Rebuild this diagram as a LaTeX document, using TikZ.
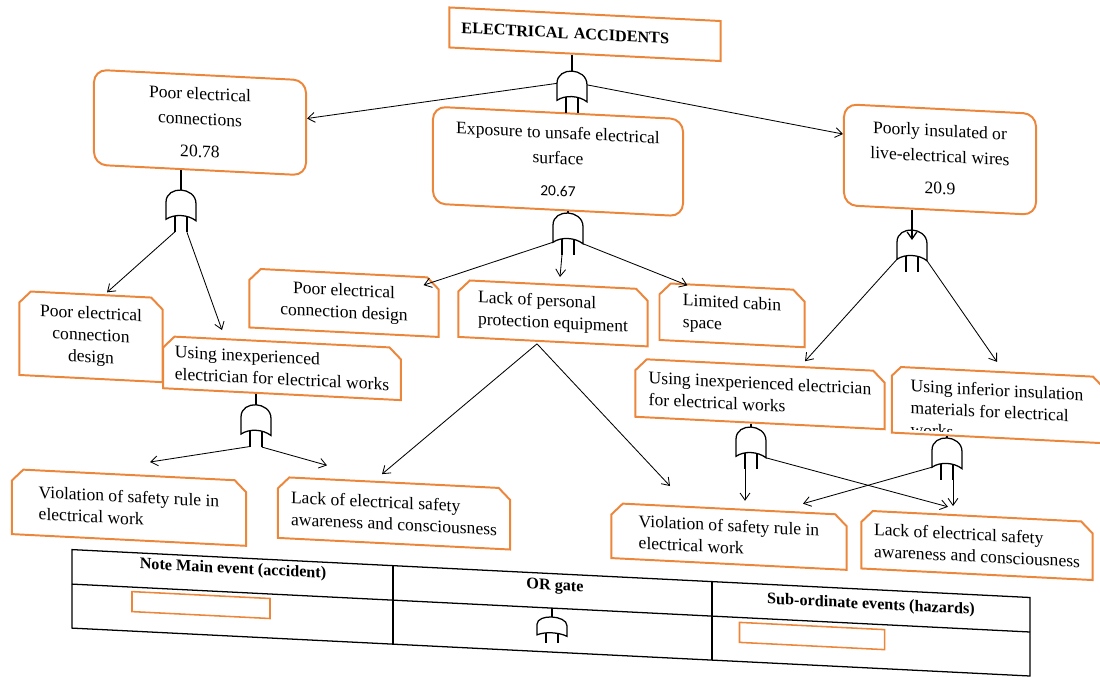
\documentclass[tikz,border=0pt]{standalone}
\usepackage{fontspec}
\setmainfont{Liberation Serif}
\newfontfamily\numfont{Carlito}
\usepackage{tikz}
\usetikzlibrary{shapes.misc,arrows.meta,calc}

\definecolor{boxorange}{RGB}{236,134,58}

\tikzset{
  orgate/.pic={
    \draw[line width=0.9pt] (-15,30) -- (-15,13) .. controls (-15,4) and (-7,0) .. (0,0)
      .. controls (7,0) and (15,4) .. (15,13) -- (15,30) .. controls (7,24) and (-7,24) .. (-15,30) -- cycle;
    \draw[line width=0.9pt] (-6,26) -- (-6,42) (6,26) -- (6,42);
    \coordinate (-top) at (0,0);
    \coordinate (-l) at (-15,13);
    \coordinate (-r) at (15,13);
    \coordinate (-cl) at (-15,30);
    \coordinate (-cr) at (15,30);
    \coordinate (-bl) at (-6,42);
    \coordinate (-br) at (6,42);
  }
}

\begin{document}
\begin{tikzpicture}[x=0.025cm, y=-0.025cm,
    >={Straight Barb[length=5pt,width=7pt]},
    conn/.style={->, line width=0.6pt},
    stem/.style={line width=0.9pt},
    topevent/.style={rectangle, draw=boxorange, line width=1.4pt, align=left,
      font=\fontsize{11.5}{14}\selectfont\bfseries},
    mainevent/.style={rectangle, rounded corners=9pt, draw=boxorange, line width=1.4pt,
      align=center, font=\fontsize{12.5}{18}\selectfont},
    subevent/.style={chamfered rectangle, chamfered rectangle corners={north west,north east},
      chamfered rectangle xsep=5pt, draw=boxorange, line width=1.4pt, align=left,
      font=\fontsize{12.5}{15.5}\selectfont},
    subtext/.style={align=left, font=\fontsize{12.5}{15.5}\selectfont},
    legendtxt/.style={font=\fontsize{11.5}{14}\selectfont\bfseries},
    legendbox/.style={rectangle, draw=boxorange, line width=1.1pt},
    tableline/.style={line width=0.9pt}]

  \useasboundingbox (0,0) rectangle (1100,677);

  \begin{scope}[yslant=-0.05, transform shape]

    \node[topevent, text width=6.175cm, inner xsep=0.3cm, minimum height=1cm] (top) at (585,5) {ELECTRICAL ACCIDENTS};

    \node[mainevent, minimum width=5.3cm, minimum height=2.375cm] (pec) at (200,112.5)
      {Poor electrical\\connections\\[5pt]20.78};
    \node[mainevent, minimum width=6.25cm, minimum height=2.425cm] (exp) at (558,133.5)
      {Exposure to unsafe electrical\\surface\\[5pt]{\numfont\fontsize{11}{18}\selectfont 20.67}};
    \node[mainevent, minimum width=4.8cm, minimum height=2.525cm] (pil) at (940,112.5)
      {Poorly insulated or\\live-electrical wires\\[5pt]20.9};

    \node[subevent, align=center, minimum width=3.575cm, minimum height=2.1cm] (pcd1) at (91,332)
      {Poor electrical\\connection\\design};
    \node[subevent, minimum width=5.85cm, minimum height=1.3cm] (uie1) at (282,354)
      {Using inexperienced\\electrician for electrical works};
    \node[subevent, align=center, minimum width=4.725cm, minimum height=1.475cm] (pcd2) at (344,285.5)
      {Poor electrical\\connection design};
    \node[subevent, minimum width=4.725cm, minimum height=1.425cm] (ppe) at (553,285.5)
      {Lack of personal\\protection equipment};
    \node[subevent, minimum width=3.625cm, minimum height=1.425cm] (lcs) at (732,278.5)
      {Limited cabin\\space};
    \node[subevent, minimum width=6.225cm, minimum height=1.45cm] (uie2) at (760,356)
      {Using inexperienced electrician\\for electrical works};
    \node[subevent, minimum width=5.25cm, minimum height=1.65cm] (uii) at (997,355) {};
    \begin{scope}
      \clip (uii.north west) -- (uii.north east) -- ($(uii.south east)+(0,-5)$) -- ($(uii.south west)+(0,-5)$) -- cycle;
      \node[subtext] (uiitext) at (997,362) {Using inferior insulation\\materials for electrical\\works};
    \end{scope}

    \node[subevent, minimum width=5.85cm, minimum height=1.625cm] (vio1) at (129,501)
      {Violation of safety rule in\\electrical work};
    \node[subevent, minimum width=5.8cm, minimum height=1.525cm] (lac1) at (394,493.5)
      {Lack of electrical safety\\awareness and consciousness};
    \node[subevent, minimum width=5.875cm, minimum height=1.375cm] (vio2) at (729,500)
      {Violation of safety rule in\\electrical work};
    \node[subevent, minimum width=5.775cm, minimum height=1.45cm] (lac2) at (977,496.4)
      {Lack of electrical safety\\awareness and consciousness};

    \pic (g0) at (572,42.5) {orgate};
    \pic (g1) at (181,181) {orgate};
    \pic (g2) at (256,392) {orgate};
    \pic (g3) at (568,184.6) {orgate};
    \pic (g4) at (912,184.4) {orgate};
    \pic (g5) at (751,389.5) {orgate};
    \pic (g6) at (947,390.6) {orgate};

    \draw[stem] (top.south -| g0-top) -- (g0-top);
    \draw[stem] (pec.south -| g1-top) -- (g1-top);
    \draw[stem] (exp.south -| g3-top) -- (g3-top);
    \draw[stem, ->] (pil.south -| g4-top) -- ($(g4-top)+(0,10)$);
    \draw[stem] (uie1.south -| g2-top) -- (g2-top);
    \draw[stem] (uie2.south -| g5-top) -- (g5-top);
    \draw[stem] (uii.south -| g6-top) -- (g6-top);

    \draw[conn] (g0-l) -- (pec.5);
    \draw[conn] (g0-r) -- (pil.168);

    \draw[conn] (g1-bl) -- ($(pcd1.north)+(16,-2)$);
    \draw[conn] (g1-br) -- ($(uie1.north)+(-60,-8)$);

    \draw[conn] (g3-cl) -- ($(pcd2.north east)+(-10,3)$);
    \draw[conn] (g3-bl) -- ($(ppe.north)+(7,-7)$);
    \draw[conn] (g3-cr) -- ($(lcs.north west)+(23,-4)$);

    \draw[conn] (g4-cl) -- ($(uie2.north)+(45,-5)$);
    \draw[conn] (g4-cr) -- ($(uii.north)+(0,-9)$);

    \draw[conn] (g2-bl) -- ($(vio1.north)+(21,-13)$);
    \draw[conn] (g2-br) -- ($(lac1.north)+(-67,-13)$);

    \coordinate (ppeout) at ($(ppe.south)+(-16,2)$);
    \draw[conn] (ppeout) -- ($(lac1.north)+(-12,-7)$);
    \draw[conn] (ppeout) -- ($(vio2.north)+(-59,-19)$);

    \draw[conn] (g5-bl) -- ($(vio2.north)+(16,-8)$);
    \draw[conn] (g5-cr) -- ($(lac2.north)+(-29,-7)$);
    \draw[conn] (g6-br) -- ($(lac2.north)+(-24,-8)$);
    \draw[conn] (g6-cl) -- ($(vio2.north)+(74,-8)$);

    \draw[tableline] (72,546) -- (1030,546) -- (1030,624.5) -- (72,624.5) -- cycle;
    \draw[tableline] (72,580.5) -- (1030,580.5);
    \draw[tableline] (393,546) -- (393,624.5);
    \draw[tableline] (712,546) -- (712,624.5);

    \node[legendtxt] (lgmain) at (233,558) {Note Main event (accident)};
    \node[legendtxt] (lgor) at (555,559) {OR gate};
    \node[legendtxt] (lgsub) at (871,561.6) {Sub-ordinate events (hazards)};

    \node[legendbox, minimum width=3.45cm, minimum height=0.5cm] (lgbox1) at (201,595) {};
    \node[legendbox, minimum width=3.625cm, minimum height=0.5cm] (lgbox2) at (812,595.4) {};
    \coordinate (rowmid) at (552,580.5);
    \pic[yscale=0.62] (lg) at (552,589.4) {orgate};
    \draw[stem] (rowmid) -- (lg-top);

  \end{scope}

\end{tikzpicture}
\end{document}
